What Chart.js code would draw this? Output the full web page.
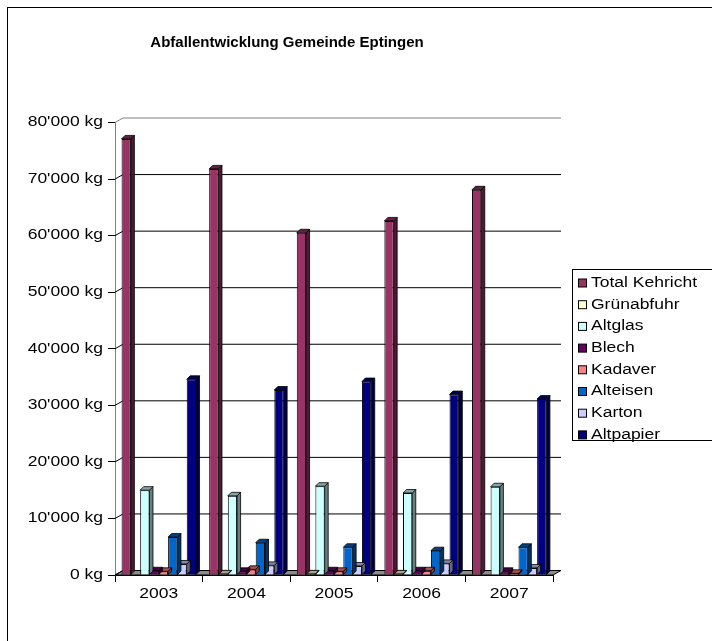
<!DOCTYPE html>
<html>
<head>
<meta charset="utf-8">
<title>Abfallentwicklung Gemeinde Eptingen</title>
<script src="https://cdn.jsdelivr.net/npm/chart.js@4.4.1/dist/chart.umd.min.js"></script>
<style>
  html, body { margin: 0; padding: 0; background: #fff; overflow: hidden; }
  #wrap { position: relative; width: 712px; height: 641px; overflow: hidden; }
  #frame { position: absolute; left: 7px; top: 7px; width: 800px; height: 800px; border: 1px solid #000; }
  #chart { position: absolute; left: 0; top: 0; }
</style>
</head>
<body>
<div id="wrap">
  <div id="frame"></div>
  <canvas id="chart" width="712" height="641"></canvas>
</div>
<script>
// Daten
const chartTitle = "Abfallentwicklung Gemeinde Eptingen";
const years = ["2003", "2004", "2005", "2006", "2007"];
const seriesNames = ["Total Kehricht", "Grünabfuhr", "Altglas", "Blech", "Kadaver", "Alteisen", "Karton", "Altpapier"];
const totalKehricht = [77100, 71800, 60500, 62600, 68100];
const gruenabfuhr = [100, 200, 200, 200, 100];
const altglas = [15000, 14000, 15700, 14500, 15600];
const blech = [750, 650, 750, 750, 650];
const kadaver = [650, 1000, 650, 750, 300];
const alteisen = [6700, 5700, 4900, 4300, 4900];
const karton = [1950, 1700, 1600, 2050, 1250];
const altpapier = [34600, 32700, 34200, 31900, 31100];
const yTickLabels = ["0 kg", "10'000 kg", "20'000 kg", "30'000 kg", "40'000 kg",
                     "50'000 kg", "60'000 kg", "70'000 kg", "80'000 kg"];

// Excel-Standardfarben
const seriesColors = ["#993366", "#FFFFCC", "#CCFFFF", "#660066", "#FF8080", "#0066CC", "#CCCCFF", "#000080"];
const seriesValues = [totalKehricht, gruenabfuhr, altglas, blech, kadaver, alteisen, karton, altpapier];

const FONT = '"Liberation Sans", Arial, sans-serif';
const SX = 1.25;          // Text horizontal gestreckt wie im Original
const WALL_DX = 8, WALL_DY = 4.5;   // Rückwand-Versatz
const BAR_D = 3.5;        // Balkentiefe

// Farbe abdunkeln
function shade(hex, f) {
  const n = parseInt(hex.slice(1), 16);
  const r = Math.round(((n >> 16) & 255) * f);
  const g = Math.round(((n >> 8) & 255) * f);
  const b = Math.round((n & 255) * f);
  return `rgb(${r},${g},${b})`;
}

function stretchText(ctx, text, x, y, align) {
  ctx.save();
  ctx.translate(x, y);
  ctx.scale(SX, 1);
  ctx.textAlign = align;
  ctx.textBaseline = "middle";
  ctx.fillText(text, 0, 0);
  ctx.restore();
}

// 3D-Optik: Boden, Rückwand, Balkenseiten, Beschriftungen, Legende
const excelLook = {
  id: "excelLook",
  beforeDatasetsDraw(chart) {
    const { ctx, chartArea: a, scales: { y } } = chart;
    ctx.save();
    ctx.lineWidth = 1;
    ctx.strokeStyle = "#000";
    // Boden
    ctx.beginPath();
    ctx.moveTo(a.left, a.bottom);
    ctx.lineTo(a.right, a.bottom);
    ctx.lineTo(a.right + WALL_DX, a.bottom - WALL_DY);
    ctx.lineTo(a.left + WALL_DX, a.bottom - WALL_DY);
    ctx.closePath();
    ctx.fillStyle = "#8c8c8c";
    ctx.fill();
    ctx.stroke();
    // Gitterlinien auf der Rückwand
    y.ticks.forEach((t) => {
      const py = y.getPixelForValue(t.value);
      ctx.beginPath();
      ctx.moveTo(a.left, py);
      ctx.lineTo(a.left + WALL_DX, py - WALL_DY);
      ctx.lineTo(a.right + WALL_DX, py - WALL_DY);
      ctx.strokeStyle = t.value === 80000 ? "#808080" : "#000";
      ctx.stroke();
    });
    ctx.restore();
  },
  afterDatasetDraw(chart, args) {
    const ctx = chart.ctx;
    const color = seriesColors[args.index];
    ctx.save();
    ctx.lineWidth = 0.8;
    ctx.strokeStyle = "#000";
    args.meta.data.forEach((bar) => {
      const { x, y, base, width } = bar.getProps(["x", "y", "base", "width"], true);
      if (Math.abs(base - y) < 0.3) return;
      const l = x - width / 2, r = x + width / 2;
      // Seite
      ctx.beginPath();
      ctx.moveTo(r, y);
      ctx.lineTo(r + BAR_D, y - BAR_D);
      ctx.lineTo(r + BAR_D, base - BAR_D);
      ctx.lineTo(r, base);
      ctx.closePath();
      ctx.fillStyle = shade(color, 0.5);
      ctx.fill();
      ctx.stroke();
      // Deckel
      ctx.beginPath();
      ctx.moveTo(l, y);
      ctx.lineTo(r, y);
      ctx.lineTo(r + BAR_D, y - BAR_D);
      ctx.lineTo(l + BAR_D, y - BAR_D);
      ctx.closePath();
      ctx.fillStyle = shade(color, 0.65);
      ctx.fill();
      ctx.stroke();
    });
    ctx.restore();
  },
  afterDraw(chart) {
    const { ctx, chartArea: a, scales: { x, y } } = chart;
    ctx.save();
    ctx.fillStyle = "#000";
    ctx.font = `14px ${FONT}`;
    y.ticks.forEach((t, i) => {
      stretchText(ctx, yTickLabels[i], a.left - 12, y.getPixelForValue(t.value), "right");
    });
    years.forEach((yr, i) => {
      stretchText(ctx, yr, x.getPixelForValue(i), a.bottom + 19, "center");
    });

    // Titel
    ctx.font = `bold 15px ${FONT}`;
    ctx.textAlign = "center";
    ctx.textBaseline = "middle";
    ctx.fillText(chartTitle, 287, 43);

    // Legende
    const lx = 572.5, ly = 269.5, rowH = 21.7;
    ctx.fillStyle = "#fff";
    ctx.strokeStyle = "#000";
    ctx.lineWidth = 1;
    ctx.fillRect(lx, ly, 160, 171);
    ctx.strokeRect(lx, ly, 160, 171);
    ctx.font = `14px ${FONT}`;
    seriesNames.forEach((name, i) => {
      const cy = ly + 13.5 + i * rowH;
      ctx.fillStyle = seriesColors[i];
      ctx.fillRect(578.5, cy - 4, 8, 8);
      ctx.strokeRect(578.5, cy - 4, 8, 8);
      ctx.fillStyle = "#000";
      stretchText(ctx, name, 591, cy, "left");
    });
    ctx.restore();
  },
};

const datasets = seriesNames.map((name, i) => ({
  label: name,
  data: seriesValues[i],
  backgroundColor: seriesColors[i],
  borderColor: "#000",
  borderWidth: 1,
  categoryPercentage: 0.85,
  barPercentage: 1,
}));

new Chart(document.getElementById("chart"), {
  type: "bar",
  data: { labels: years, datasets },
  options: {
    responsive: false,
    animation: false,
    layout: { padding: { top: 122.5, bottom: 26, left: 0, right: 159 } },
    plugins: {
      legend: { display: false },
      title: { display: false },
      tooltip: { enabled: false },
    },
    scales: {
      x: {
        grid: { display: true, drawOnChartArea: false, drawTicks: true, tickLength: 7, color: "#000", offset: true },
        border: { display: true, color: "#000" },
        ticks: { display: false },
        afterFit: (s) => { s.height = 40; },
      },
      y: {
        min: 0,
        max: 80000,
        grid: { display: true, drawOnChartArea: false, drawTicks: true, tickLength: 7, color: "#000" },
        border: { display: true, color: "#808080" },
        ticks: { display: false, stepSize: 10000 },
        afterFit: (s) => { s.width = 115; },
      },
    },
  },
  plugins: [excelLook],
});
</script>
</body>
</html>
